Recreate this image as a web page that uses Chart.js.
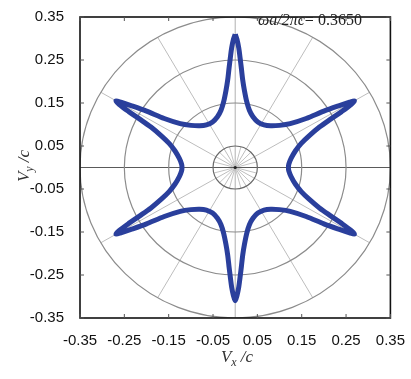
<!DOCTYPE html>
<html>
<head>
<meta charset="utf-8">
<script src="https://cdn.jsdelivr.net/npm/chart.js@4/dist/chart.umd.min.js"></script>
<style>
html,body{margin:0;padding:0;background:#fff;}
#wrap{width:411px;height:379px;}
</style>
</head>
<body>
<div id="wrap"><canvas id="c" width="411" height="379"></canvas></div>
<script>
// ---- data ----
const tickValues = [-0.35, -0.25, -0.15, -0.05, 0.05, 0.15, 0.25, 0.35];

const vx = [
  0.000, 0.004, 0.008, 0.011, 0.014, 0.017, 0.021, 0.026, 0.032, 0.040,
  0.051, 0.065, 0.080, 0.100, 0.124, 0.160, 0.200, 0.235, 0.258, 0.269,
  0.262, 0.240, 0.216, 0.190, 0.166, 0.149, 0.136, 0.126, 0.121, 0.120,
  0.121, 0.126, 0.136, 0.149, 0.166, 0.190, 0.216, 0.240, 0.262, 0.269,
  0.258, 0.235, 0.200, 0.160, 0.124, 0.100, 0.080, 0.065, 0.051, 0.040,
  0.032, 0.026, 0.021, 0.017, 0.014, 0.011, 0.008, 0.004, 0.000,
  -0.004, -0.008, -0.011, -0.014, -0.017, -0.021, -0.026, -0.032, -0.040, -0.051,
  -0.065, -0.080, -0.100, -0.124, -0.160, -0.200, -0.235, -0.258, -0.269,
  -0.262, -0.240, -0.216, -0.190, -0.166, -0.149, -0.136, -0.126, -0.121, -0.120,
  -0.121, -0.126, -0.136, -0.149, -0.166, -0.190, -0.216, -0.240, -0.262, -0.269,
  -0.258, -0.235, -0.200, -0.160, -0.124, -0.100, -0.080, -0.065, -0.051, -0.040,
  -0.032, -0.026, -0.021, -0.017, -0.014, -0.011, -0.008, -0.004, 0.000
];
const vy = [
  0.310, 0.298, 0.278, 0.255, 0.230, 0.203, 0.178, 0.153, 0.133, 0.118,
  0.106, 0.099, 0.097, 0.098, 0.102, 0.114, 0.131, 0.144, 0.152, 0.155,
  0.147, 0.130, 0.113, 0.094, 0.073, 0.056, 0.039, 0.021, 0.008, 0.000,
  -0.008, -0.021, -0.039, -0.056, -0.073, -0.094, -0.113, -0.130, -0.147, -0.155,
  -0.152, -0.144, -0.131, -0.114, -0.102, -0.098, -0.097, -0.099, -0.106, -0.118,
  -0.133, -0.153, -0.178, -0.203, -0.230, -0.255, -0.278, -0.298, -0.310,
  -0.298, -0.278, -0.255, -0.230, -0.203, -0.178, -0.153, -0.133, -0.118, -0.106,
  -0.099, -0.097, -0.098, -0.102, -0.114, -0.131, -0.144, -0.152, -0.155,
  -0.147, -0.130, -0.113, -0.094, -0.073, -0.056, -0.039, -0.021, -0.008, 0.000,
  0.008, 0.021, 0.039, 0.056, 0.073, 0.094, 0.113, 0.130, 0.147, 0.155,
  0.152, 0.144, 0.131, 0.114, 0.102, 0.098, 0.097, 0.099, 0.106, 0.118,
  0.133, 0.153, 0.178, 0.203, 0.230, 0.255, 0.278, 0.298, 0.310
];

const ringRadii = [0.05, 0.15, 0.25, 0.35];
const spokeAngles = [30, 60, 120, 150, 210, 240, 300, 330];
const innerSpokeAngles = [15, 45, 75, 105, 135, 165, 195, 225, 255, 285, 315, 345];
const annotation = { label: 'ωa/2πc', value: '= 0.3650' };

// ---- build points ----
const points = vx.map((x, i) => ({ x: x, y: vy[i] }));

const polarGrid = {
  id: 'polarGrid',
  beforeDatasetsDraw(chart) {
    const { ctx, chartArea: ca, scales: { x, y } } = chart;
    const cx = x.getPixelForValue(0), cy = y.getPixelForValue(0);
    ctx.save();
    ctx.beginPath();
    ctx.rect(ca.left, ca.top, ca.right - ca.left, ca.bottom - ca.top);
    ctx.clip();
    ctx.lineWidth = 1;
    ctx.strokeStyle = '#bdbdbd';
    spokeAngles.forEach(a => {
      const r = 0.35, t = a * Math.PI / 180;
      ctx.beginPath();
      ctx.moveTo(cx, cy);
      ctx.lineTo(x.getPixelForValue(r * Math.cos(t)), y.getPixelForValue(r * Math.sin(t)));
      ctx.stroke();
    });
    ctx.strokeStyle = '#c4c4c4';
    innerSpokeAngles.forEach(a => {
      const r = 0.05, t = a * Math.PI / 180;
      ctx.beginPath();
      ctx.moveTo(cx, cy);
      ctx.lineTo(x.getPixelForValue(r * Math.cos(t)), y.getPixelForValue(r * Math.sin(t)));
      ctx.stroke();
    });
    ctx.strokeStyle = '#b0b0b0';
    ctx.beginPath(); ctx.moveTo(cx, ca.top); ctx.lineTo(cx, ca.bottom); ctx.stroke();
    ctx.strokeStyle = '#5a5a5a';
    ctx.beginPath(); ctx.moveTo(ca.left, cy); ctx.lineTo(ca.right, cy); ctx.stroke();
    ringRadii.forEach((r, i) => {
      const rx = Math.abs(x.getPixelForValue(r) - cx);
      const ry = Math.abs(y.getPixelForValue(r) - cy);
      ctx.strokeStyle = i === 0 ? '#6a6a6a' : '#8c8c8c';
      ctx.lineWidth = 1.2;
      ctx.beginPath();
      ctx.ellipse(cx, cy, rx, ry, 0, 0, Math.PI * 2);
      ctx.stroke();
    });
    ctx.fillStyle = '#222';
    ctx.beginPath(); ctx.arc(cx, cy, 1.6, 0, Math.PI * 2); ctx.fill();
    ctx.restore();
  },
  afterDatasetsDraw(chart) {
    const { ctx, chartArea: ca, scales: { x, y } } = chart;
    ctx.save();
    ctx.strokeStyle = '#111';
    ctx.lineWidth = 1.6;
    ctx.strokeRect(ca.left, ca.top, ca.right - ca.left, ca.bottom - ca.top);
    ctx.lineWidth = 1;
    ctx.strokeStyle = '#555';
    tickValues.forEach(v => {
      const px = x.getPixelForValue(v), py = y.getPixelForValue(v);
      ctx.beginPath();
      ctx.moveTo(px, ca.bottom); ctx.lineTo(px, ca.bottom - 4);
      ctx.moveTo(px, ca.top); ctx.lineTo(px, ca.top + 4);
      ctx.moveTo(ca.left, py); ctx.lineTo(ca.left + 4, py);
      ctx.moveTo(ca.right, py); ctx.lineTo(ca.right - 4, py);
      ctx.stroke();
    });
    ctx.fillStyle = '#222';
    ctx.textBaseline = 'middle';
    ctx.textAlign = 'left';
    ctx.font = 'italic 16px "Liberation Serif", "DejaVu Serif", serif';
    const ax = 258, ay = 21;
    ctx.fillText(annotation.label, ax, ay);
    const w = ctx.measureText(annotation.label).width;
    ctx.font = '16px "Liberation Serif", "DejaVu Serif", serif';
    ctx.fillText(annotation.value, ax + w, ay);
    ctx.restore();
  },
  afterDraw(chart) {
    const { ctx } = chart;
    function drawTitle(sub, cxp, cyp, rot) {
      ctx.save();
      ctx.translate(cxp, cyp);
      ctx.rotate(rot);
      ctx.fillStyle = '#333';
      ctx.textBaseline = 'alphabetic';
      ctx.textAlign = 'left';
      const big = 'italic 17px "Liberation Serif", "DejaVu Serif", serif';
      const small = 'italic 12px "Liberation Serif", "DejaVu Serif", serif';
      ctx.font = big; const w1 = ctx.measureText('V').width;
      ctx.font = small; const w2 = ctx.measureText(sub).width;
      ctx.font = big; const w3 = ctx.measureText(' /c').width;
      const total = w1 + w2 + w3;
      let xx = -total / 2;
      ctx.font = big; ctx.fillText('V', xx, 6); xx += w1;
      ctx.font = small; ctx.fillText(sub, xx, 10); xx += w2;
      ctx.font = big; ctx.fillText(' /c', xx, 6);
      ctx.restore();
    }
    drawTitle('x', 237, 356, 0);
    drawTitle('y', 23, 166, -Math.PI / 2);
  }
};

const tickFont = { family: '"Liberation Sans", Arial, sans-serif', size: 15 };

new Chart(document.getElementById('c'), {
  type: 'scatter',
  data: {
    datasets: [{
      data: points,
      showLine: true,
      borderColor: '#2a3f9c',
      borderWidth: 5,
      pointRadius: 0,
      tension: 0.3,
      fill: false
    }]
  },
  options: {
    responsive: false,
    animation: false,
    events: [],
    layout: { padding: { left: 0, top: 11, right: 20, bottom: 0 } },
    plugins: { legend: { display: false }, tooltip: { enabled: false } },
    scales: {
      x: {
        type: 'linear', min: -0.35, max: 0.35,
        afterBuildTicks: s => { s.ticks = tickValues.map(v => ({ value: v })); },
        afterFit: s => { s.height = 61; },
        ticks: { callback: v => Number(v).toFixed(2), font: tickFont, color: '#111', padding: 6, autoSkip: false, maxRotation: 0 },
        grid: { display: false },
        border: { display: false }
      },
      y: {
        type: 'linear', min: -0.35, max: 0.35,
        afterBuildTicks: s => { s.ticks = tickValues.map(v => ({ value: v })); },
        afterFit: s => { s.width = 80; },
        ticks: { callback: v => Number(v).toFixed(2), font: tickFont, color: '#111', padding: 8, autoSkip: false },
        grid: { display: false },
        border: { display: false }
      }
    }
  },
  plugins: [polarGrid]
});
</script>
</body>
</html>
